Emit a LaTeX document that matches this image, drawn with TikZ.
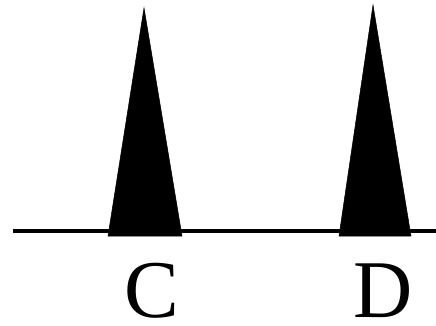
\documentclass[tikz,border=0pt]{standalone}
\usepackage{fontspec}
\setmainfont{Liberation Serif}

\begin{document}
\begin{tikzpicture}[
        x=1pt, y=-1pt,
        peak/.style={fill=black, draw=black, line width=0.5pt},
        baseline/.style={draw, line width=3.5pt},
        peaklabel/.style={anchor=base, inner sep=0pt, font=\fontsize{82}{82}\selectfont}
    ]
        \useasboundingbox (0,0) rectangle (436,326);

        % Axis
        \coordinate (axisL) at (13,231);
        \coordinate (axisR) at (436,231);
        \path[baseline] (axisL) -- (axisR);

        % Peaks
        \coordinate (topC) at (144,8);
        \coordinate (topD) at (373,5);
        \path[peak] (108,236) -- (topC) -- (182,236) -- cycle;
        \path[peak] (339,236) -- (topD) -- (411,236) -- cycle;

        % Labels
        \node[peaklabel] (labC) at (152,317) {C};
        \node[peaklabel] (labD) at (383,317) {D};
    \end{tikzpicture}
\end{document}
